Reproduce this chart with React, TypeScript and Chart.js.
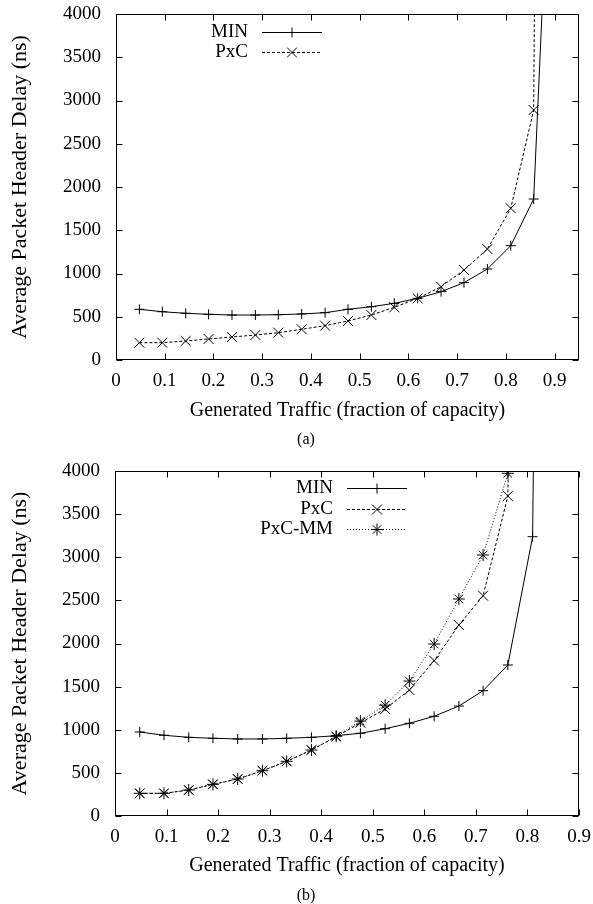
import React, { useEffect, useRef } from 'react';
import { Chart, registerables } from 'chart.js';
Chart.register(...registerables);

const FONT = "'Liberation Serif', 'Times New Roman', serif";

// ---- data: chart (a) ----
const xA = [0.048, 0.095, 0.143, 0.19, 0.238, 0.286, 0.333, 0.381, 0.429, 0.476, 0.524, 0.571, 0.619, 0.667, 0.714, 0.762, 0.81, 0.857, 0.905];
const minA = [586, 558, 540, 528, 520, 520, 524, 532, 547, 586, 616, 655, 713, 790, 894, 1052, 1322, 1861, 7900];
const pxcA = [200, 200, 220, 243, 266, 289, 316, 355, 397, 451, 520, 609, 713, 847, 1040, 1283, 1754, 2890, 40000];

// ---- data: chart (b) ----
const xB = [0.048, 0.095, 0.143, 0.19, 0.238, 0.286, 0.333, 0.381, 0.429, 0.476, 0.524, 0.571, 0.619, 0.667, 0.714, 0.762, 0.81, 0.857];
const minB = [974, 936, 912, 901, 893, 893, 901, 912, 931, 959, 1012, 1075, 1156, 1275, 1453, 1751, 3238, 28000];
const pxcB = [263, 263, 301, 367, 429, 525, 634, 765, 920, 1080, 1240, 1461, 1801, 2214, 2554, 3710, 20000];
const pxcmmB = [263, 263, 301, 367, 429, 525, 634, 765, 925, 1100, 1285, 1565, 1994, 2516, 3026, 3973, 20000];

// ---- ticks / labels ----
const xTicks = [0, 0.1, 0.2, 0.3, 0.4, 0.5, 0.6, 0.7, 0.8, 0.9];
const yTicks = [0, 500, 1000, 1500, 2000, 2500, 3000, 3500, 4000];
const xTitle = 'Generated Traffic (fraction of capacity)';
const yTitle = 'Average Packet Header Delay (ns)';

function drawMarker(ctx: CanvasRenderingContext2D, style: string, x: number, y: number, r: number) {
  ctx.beginPath();
  if (style === 'cross' || style === 'star') {
    ctx.moveTo(x - r, y); ctx.lineTo(x + r, y);
    ctx.moveTo(x, y - r); ctx.lineTo(x, y + r);
  }
  if (style === 'crossRot' || style === 'star') {
    const d = r * Math.SQRT1_2;
    ctx.moveTo(x - d, y - d); ctx.lineTo(x + d, y + d);
    ctx.moveTo(x - d, y + d); ctx.lineTo(x + d, y - d);
  }
  ctx.stroke();
}

const decor = {
  id: 'decor',
  afterDatasetsDraw(chart: any, _args: any, opts: any) {
    const { ctx, chartArea: a, scales } = chart;
    ctx.save();
    ctx.strokeStyle = '#000';
    ctx.lineWidth = 1;
    ctx.setLineDash([]);
    const L = Math.round(a.left) + 0.5, R = Math.round(a.right) - 0.5;
    const T = Math.round(a.top) + 0.5, B = Math.round(a.bottom) - 0.5;
    ctx.strokeRect(L, T, R - L, B - T);
    const tl = 6;
    ctx.beginPath();
    scales.x.ticks.forEach((t: any) => {
      const px = Math.round(scales.x.getPixelForValue(t.value)) + 0.5;
      ctx.moveTo(px, B); ctx.lineTo(px, B - tl);
      ctx.moveTo(px, T); ctx.lineTo(px, T + tl);
    });
    scales.y.ticks.forEach((t: any) => {
      const py = Math.round(scales.y.getPixelForValue(t.value)) + 0.5;
      ctx.moveTo(L, py); ctx.lineTo(L + tl, py);
      ctx.moveTo(R, py); ctx.lineTo(R - tl, py);
    });
    ctx.stroke();

    // legend (gnuplot style: text right-aligned, then line sample with marker)
    ctx.font = `19px ${FONT}`;
    ctx.fillStyle = '#000';
    ctx.textAlign = 'right';
    ctx.textBaseline = 'middle';
    chart.data.datasets.forEach((ds: any, i: number) => {
      const y = Math.round(a.top + opts.legendTop + i * opts.legendGap) + 0.5;
      ctx.fillText(ds.label, a.left + opts.legendTextRight, y);
      const x0 = a.left + opts.legendLineStart, x1 = x0 + 60;
      ctx.strokeStyle = ds.borderColor;
      ctx.setLineDash(ds.borderDash || []);
      ctx.beginPath(); ctx.moveTo(x0, y); ctx.lineTo(x1, y); ctx.stroke();
      ctx.setLineDash([]);
      drawMarker(ctx, ds.pointStyle, (x0 + x1) / 2, y, ds.pointRadius);
    });

    // caption
    ctx.font = `16px ${FONT}`;
    ctx.textAlign = 'center';
    ctx.fillText(opts.caption, opts.captionX, opts.captionY);
    ctx.restore();
  },
};

function mkData(xs: number[], ys: number[]) {
  return ys.map((y, i) => ({ x: xs[i], y }));
}

function ds(label: string, xs: number[], ys: number[], dash: number[], style: string, r: number) {
  return {
    label,
    data: mkData(xs, ys),
    borderColor: '#000',
    borderWidth: 1,
    borderDash: dash,
    pointStyle: style,
    pointRadius: r,
    pointBorderColor: '#000',
    pointBorderWidth: 1,
    pointBackgroundColor: 'rgba(0,0,0,0)',
    tension: 0,
    fill: false,
  };
}

function makeOptions(p: {
  xMax: number; top: number; yWidth: number; xHeight: number; xTitlePadBottom: number;
  decor: any;
}) {
  return {
    animation: false,
    responsive: false,
    devicePixelRatio: 1,
    events: [],
    layout: { padding: { top: p.top, right: 14, left: 0, bottom: 0 } },
    plugins: {
      legend: { display: false },
      tooltip: { enabled: false },
      decor: p.decor,
    },
    scales: {
      x: {
        type: 'linear',
        min: 0,
        max: p.xMax,
        grid: { display: false, drawTicks: false },
        border: { display: false },
        afterBuildTicks: (s: any) => { s.ticks = xTicks.map((v) => ({ value: v })); },
        afterFit: (s: any) => {
          s.height = p.xHeight;
          s.paddingLeft = 0; s.paddingRight = 0; s.paddingTop = 0; s.paddingBottom = 0;
        },
        ticks: {
          padding: 10,
          color: '#000',
          maxRotation: 0,
          autoSkip: false,
          font: { family: FONT, size: 19 },
          callback: (v: any) => (v === 0 ? '0' : Number(v).toFixed(1)),
        },
        title: {
          display: true,
          text: xTitle,
          color: '#000',
          font: { family: FONT, size: 20 },
          padding: { top: 0, bottom: p.xTitlePadBottom },
        },
      },
      y: {
        type: 'linear',
        min: 0,
        max: 4000,
        grid: { display: false, drawTicks: false },
        border: { display: false },
        afterBuildTicks: (s: any) => { s.ticks = yTicks.map((v) => ({ value: v })); },
        afterFit: (s: any) => {
          s.width = p.yWidth;
          s.paddingLeft = 0; s.paddingRight = 0; s.paddingTop = 0; s.paddingBottom = 0;
        },
        ticks: {
          padding: 15,
          color: '#000',
          autoSkip: false,
          font: { family: FONT, size: 19 },
          callback: (v: any) => String(v),
        },
        title: {
          display: true,
          text: yTitle,
          color: '#000',
          font: { family: FONT, size: 22 },
          padding: { top: 7, bottom: 0 },
        },
      },
    },
  };
}

function ChartCanvas({ top, height, config }: { top: number; height: number; config: any }) {
  const ref = useRef<HTMLCanvasElement | null>(null);
  useEffect(() => {
    if (!ref.current) return;
    const chart = new Chart(ref.current, config);
    return () => chart.destroy();
  }, []);
  return (
    <canvas
      ref={ref}
      width={593}
      height={height}
      style={{ position: 'absolute', left: 0, top, width: 593, height, display: 'block' }}
    />
  );
}

export default function App() {
  const configA = {
    type: 'line',
    data: {
      datasets: [
        ds('MIN', xA, minA, [], 'cross', 5),
        ds('PxC', xA, pxcA, [3, 2], 'crossRot', 7),
      ],
    },
    options: makeOptions({
      xMax: 0.95,
      top: 14,
      yWidth: 116,
      xHeight: 90,
      xTitlePadBottom: 27,
      decor: {
        legendTop: 18, legendGap: 20, legendTextRight: 132, legendLineStart: 146,
        caption: '(a)', captionX: 306, captionY: 440,
      },
    }),
    plugins: [decor],
  };
  const configB = {
    type: 'line',
    data: {
      datasets: [
        ds('MIN', xB, minB, [], 'cross', 5),
        ds('PxC', xB, pxcB, [3, 2], 'crossRot', 7),
        ds('PxC-MM', xB, pxcmmB, [1, 2], 'star', 6),
      ],
    },
    options: makeOptions({
      xMax: 0.9,
      top: 21,
      yWidth: 115,
      xHeight: 88,
      xTitlePadBottom: 26,
      decor: {
        legendTop: 17.3, legendGap: 20.3, legendTextRight: 218, legendLineStart: 232,
        caption: '(b)', captionX: 306, captionY: 446,
      },
    }),
    plugins: [decor],
  };
  return (
    <div style={{ position: 'absolute', left: 0, top: 0, width: 593, height: 904, background: '#fff', overflow: 'hidden' }}>
      <ChartCanvas top={0} height={450} config={configA} />
      <ChartCanvas top={450} height={454} config={configB} />
    </div>
  );
}
